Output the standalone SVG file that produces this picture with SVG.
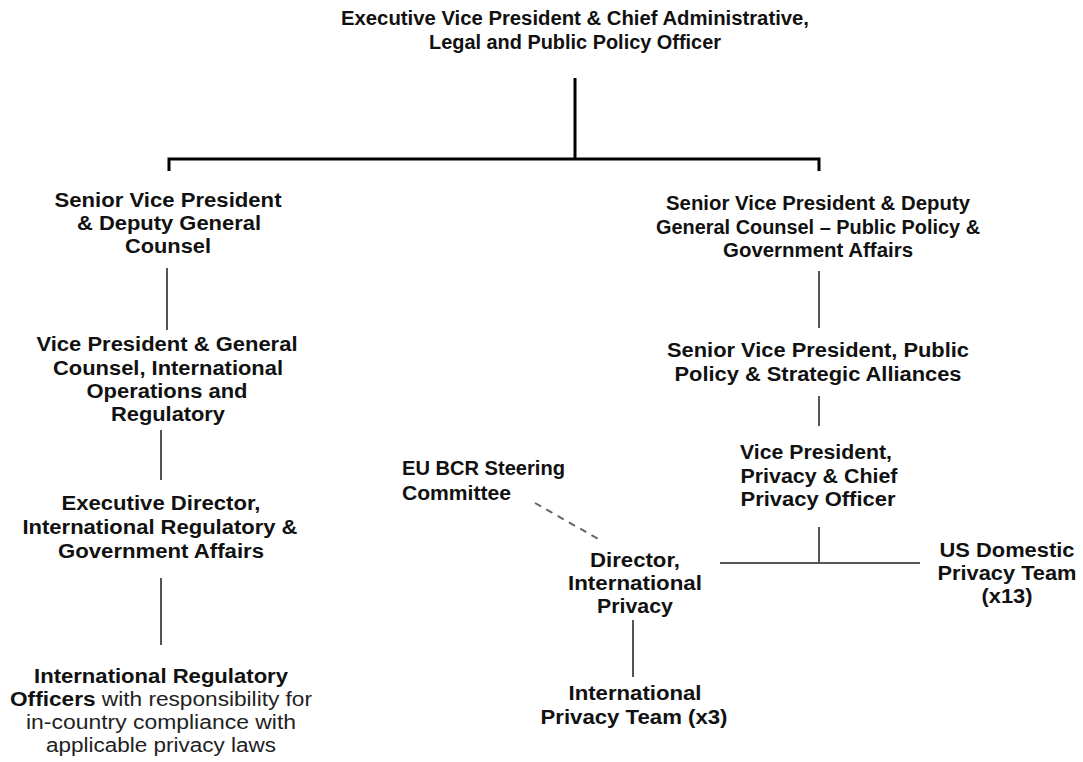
<svg xmlns="http://www.w3.org/2000/svg" width="1083" height="762" viewBox="0 0 1083 762">
<style>
text{font-family:"Liberation Sans",Arial,sans-serif;font-size:20px;font-weight:bold;fill:#111;text-anchor:middle}
.l{text-anchor:start}
.n{font-weight:normal;fill:#222}
.k{stroke:#000;stroke-width:3;fill:none}
.g{stroke:#555;stroke-width:2;fill:none}
.d{stroke:#666;stroke-width:2;fill:none;stroke-dasharray:7,6}
</style>
<rect width="1083" height="762" fill="#fff"/>
<g id="connectors">
<path class="k" d="M575,78V159M169,171V159H819V171"/>
<path class="g" d="M167,268V330M161,430V480M161,578V645M819,271V328M819,396V426M819,527V562M720,563H920M633,620V677"/>
<path class="d" d="M535,503L600,540"/>
</g>
<g id="n_evp">
<text x="575" y="25" textLength="468" lengthAdjust="spacingAndGlyphs">Executive Vice President &amp; Chief Administrative,</text>
<text x="575" y="49" textLength="292" lengthAdjust="spacingAndGlyphs">Legal and Public Policy Officer</text>
</g>
<g id="n_svp_dgc">
<text x="168" y="207" textLength="227" lengthAdjust="spacingAndGlyphs">Senior Vice President</text>
<text x="169" y="230" textLength="184" lengthAdjust="spacingAndGlyphs">&amp; Deputy General</text>
<text x="168" y="253" textLength="86" lengthAdjust="spacingAndGlyphs">Counsel</text>
</g>
<g id="n_vp_gc">
<text x="167" y="351" textLength="261" lengthAdjust="spacingAndGlyphs">Vice President &amp; General</text>
<text x="168" y="375" textLength="230" lengthAdjust="spacingAndGlyphs">Counsel, International</text>
<text x="167" y="398" textLength="161" lengthAdjust="spacingAndGlyphs">Operations and</text>
<text x="168" y="421" textLength="114" lengthAdjust="spacingAndGlyphs">Regulatory</text>
</g>
<g id="n_exec_dir">
<text x="161" y="510" textLength="199" lengthAdjust="spacingAndGlyphs">Executive Director,</text>
<text x="160" y="534" textLength="275" lengthAdjust="spacingAndGlyphs">International Regulatory &amp;</text>
<text x="161" y="558" textLength="206" lengthAdjust="spacingAndGlyphs">Government Affairs</text>
</g>
<g id="n_iro">
<text x="161" y="683" textLength="254" lengthAdjust="spacingAndGlyphs">International Regulatory</text>
<text x="161" y="706" textLength="302" lengthAdjust="spacingAndGlyphs">Officers<tspan class="n"> with responsibility for</tspan></text>
<text class="n" x="161" y="729" textLength="270" lengthAdjust="spacingAndGlyphs">in-country compliance with</text>
<text class="n" x="161" y="752" textLength="230" lengthAdjust="spacingAndGlyphs">applicable privacy laws</text>
</g>
<g id="n_svp_ppga">
<text x="818" y="210" textLength="304" lengthAdjust="spacingAndGlyphs">Senior Vice President &amp; Deputy</text>
<text x="818" y="234" textLength="324" lengthAdjust="spacingAndGlyphs">General Counsel – Public Policy &amp;</text>
<text x="818" y="257" textLength="190" lengthAdjust="spacingAndGlyphs">Government Affairs</text>
</g>
<g id="n_svp_ppsa">
<text x="818" y="357" textLength="302" lengthAdjust="spacingAndGlyphs">Senior Vice President, Public</text>
<text x="818" y="381" textLength="287" lengthAdjust="spacingAndGlyphs">Policy &amp; Strategic Alliances</text>
</g>
<g id="n_cpo">
<text x="816" y="459" textLength="152" lengthAdjust="spacingAndGlyphs">Vice President,</text>
<text x="819" y="483" textLength="157" lengthAdjust="spacingAndGlyphs">Privacy &amp; Chief</text>
<text x="818" y="506" textLength="155" lengthAdjust="spacingAndGlyphs">Privacy Officer</text>
</g>
<g id="n_eubcr">
<text class="l" x="402" y="475" textLength="163" lengthAdjust="spacingAndGlyphs">EU BCR Steering</text>
<text class="l" x="402" y="500" textLength="109" lengthAdjust="spacingAndGlyphs">Committee</text>
</g>
<g id="n_dir_ip">
<text x="635" y="567" textLength="90" lengthAdjust="spacingAndGlyphs">Director,</text>
<text x="635" y="590" textLength="134" lengthAdjust="spacingAndGlyphs">International</text>
<text x="635" y="613" textLength="76" lengthAdjust="spacingAndGlyphs">Privacy</text>
</g>
<g id="n_ipt">
<text x="635" y="700" textLength="133" lengthAdjust="spacingAndGlyphs">International</text>
<text x="634" y="724" textLength="187" lengthAdjust="spacingAndGlyphs">Privacy Team (x3)</text>
</g>
<g id="n_usdpt">
<text x="1007" y="557" textLength="135" lengthAdjust="spacingAndGlyphs">US Domestic</text>
<text x="1007" y="580" textLength="139" lengthAdjust="spacingAndGlyphs">Privacy Team</text>
<text x="1007" y="603" textLength="51" lengthAdjust="spacingAndGlyphs">(x13)</text>
</g>
</svg>
